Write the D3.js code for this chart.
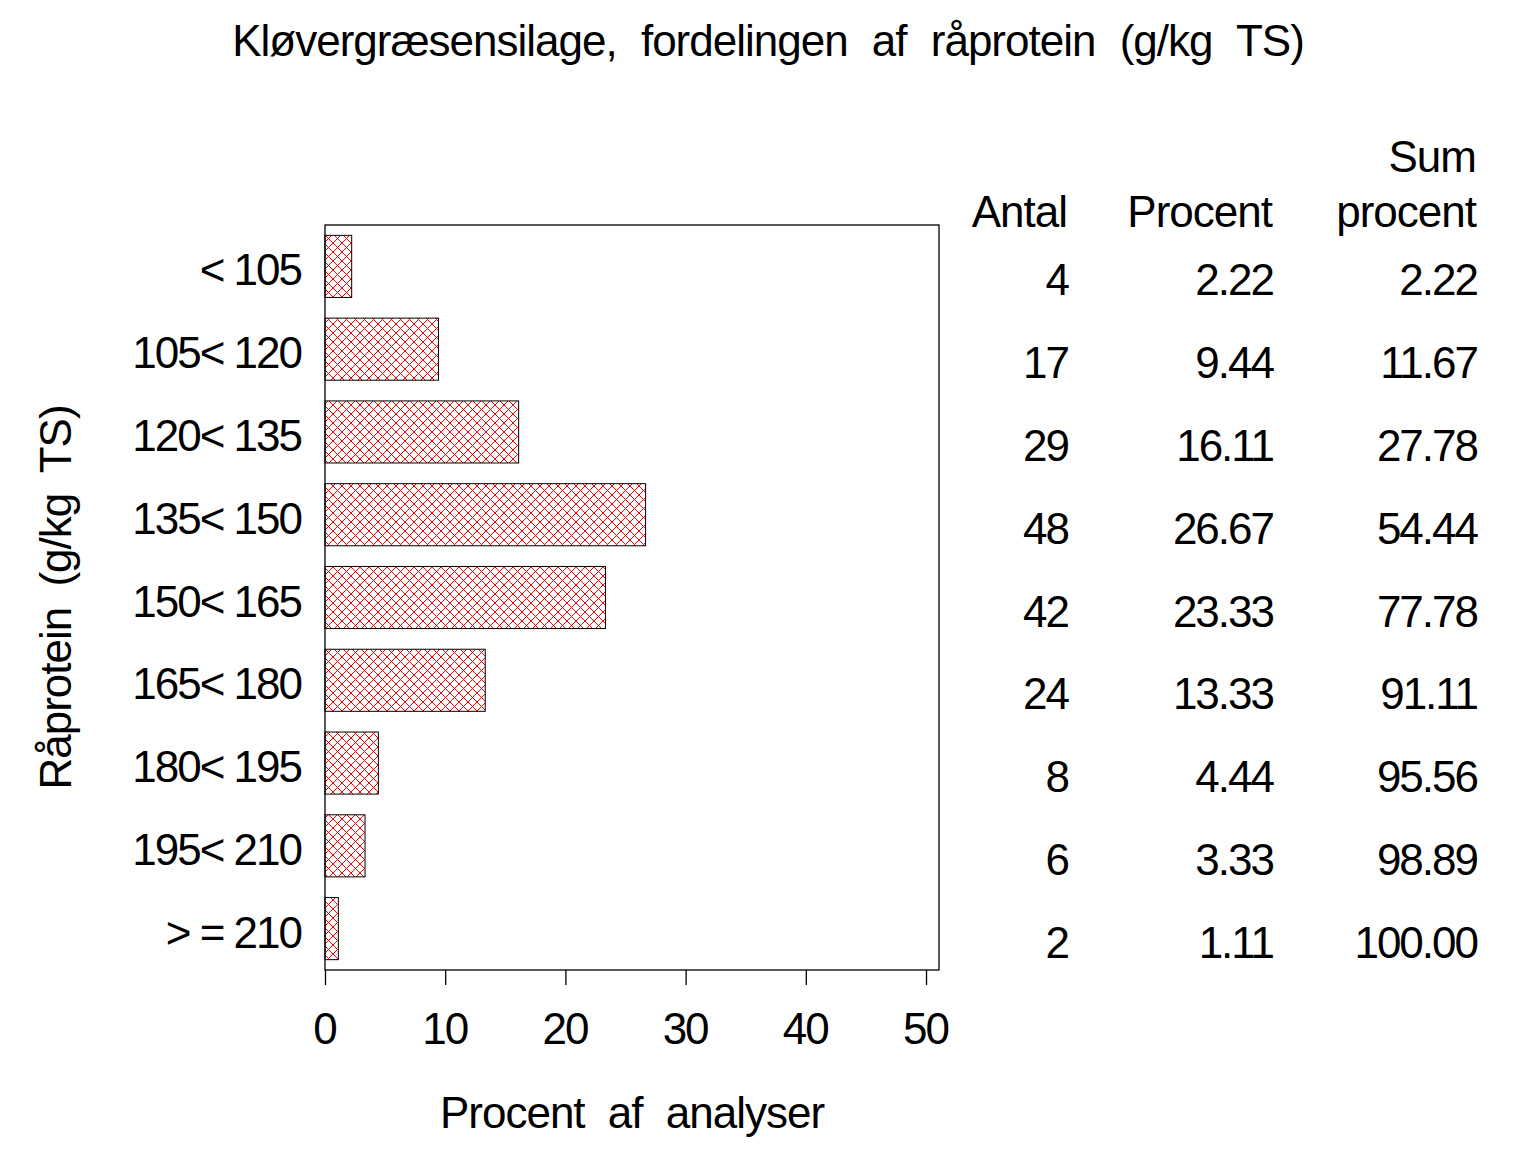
<!DOCTYPE html>
<html>
<head>
<meta charset="utf-8">
<script src="https://cdn.jsdelivr.net/npm/d3@7"></script>
<style>
  html, body { margin: 0; padding: 0; background: #fff; }
  svg text { font-family: "Liberation Sans", Arial, sans-serif; fill: #000; letter-spacing: -2px; }
  svg text.word { letter-spacing: -1px; }
</style>
</head>
<body>
<script>
const categories = ["< 105", "105< 120", "120< 135", "135< 150", "150< 165", "165< 180", "180< 195", "195< 210", "> = 210"];
const antal = [4, 17, 29, 48, 42, 24, 8, 6, 2];
const procent = [2.22, 9.44, 16.11, 26.67, 23.33, 13.33, 4.44, 3.33, 1.11];
const sumProcent = [2.22, 11.67, 27.78, 54.44, 77.78, 91.11, 95.56, 98.89, 100.00];
const xTicks = [0, 10, 20, 30, 40, 50];
const title = "Kløvergræsensilage, fordelingen af råprotein (g/kg TS)";
const xLabel = "Procent af analyser";
const yLabel = "Råprotein (g/kg TS)";
const tableHeaders = [["", "Antal"], ["", "Procent"], ["Sum", "procent"]];

const W = 1536, H = 1152;
const FS = 44;
const svg = d3.select("body").append("svg").attr("width", W).attr("height", H);

// hatch pattern
const defs = svg.append("defs");
const pat = defs.append("pattern").attr("id", "hatch").attr("patternUnits", "userSpaceOnUse")
  .attr("width", 9).attr("height", 9);
pat.append("path").attr("d", "M0,0 L9,9 M9,0 L0,9 M-1,8 L1,10 M8,-1 L10,1 M-1,1 L1,-1 M8,10 L10,8")
  .attr("stroke", "#ff0000").attr("stroke-width", 1).attr("fill", "none");

const pLeft = 325, pRight = 939, pTop = 225, pBottom = 970;
const x = d3.scaleLinear().domain([0, 51.08]).range([pLeft, pRight]);
const y = d3.scaleBand().domain(categories).range([pTop, pBottom]).paddingInner(0.25).paddingOuter(0.125);

// bars
svg.append("g").selectAll("rect").data(categories).join("rect")
  .attr("x", x(0)).attr("y", d => y(d))
  .attr("width", (d, i) => x(procent[i]) - x(0))
  .attr("height", y.bandwidth())
  .attr("fill", "url(#hatch)").attr("stroke", "#000").attr("stroke-width", 1);

// frame
svg.append("rect").attr("x", pLeft).attr("y", pTop).attr("width", pRight - pLeft).attr("height", pBottom - pTop)
  .attr("fill", "none").attr("stroke", "#000").attr("stroke-width", 1.3);

// x axis
const xAxis = svg.append("g").attr("transform", `translate(0,${pBottom})`)
  .call(d3.axisBottom(x).tickValues(xTicks).tickSize(15).tickSizeOuter(0).tickFormat(d3.format("d")));
xAxis.select(".domain").remove();
xAxis.selectAll(".tick line").attr("stroke", "#000").attr("stroke-width", 1.3);
xAxis.selectAll(".tick text").attr("y", 74).attr("dy", null).attr("dx", -1).style("font-size", FS + "px")
  .style("font-family", "Liberation Sans, Arial, sans-serif").attr("fill", "#000");

// y labels
svg.append("g").selectAll("text").data(categories).join("text")
  .attr("x", 301).attr("y", d => y(d) + y.bandwidth() / 2 + 19)
  .attr("text-anchor", "end").style("font-size", FS + "px")
  .text(d => d);

// table
const colX = [1068, 1273, 1477];
const cols = [antal, procent.map(v => v.toFixed(2)), sumProcent.map(v => v.toFixed(2))];
cols.forEach((vals, c) => {
  svg.append("g").selectAll("text").data(vals).join("text")
    .attr("x", colX[c]).attr("y", (d, i) => y(categories[i]) + y.bandwidth() / 2 + 29)
    .attr("text-anchor", "end").style("font-size", FS + "px").text(d => d);
  svg.append("text").attr("class", "word").attr("x", colX[c] - 1).attr("y", 172).attr("text-anchor", "end")
    .style("font-size", FS + "px").text(tableHeaders[c][0]);
  svg.append("text").attr("class", "word").attr("x", colX[c] - 1).attr("y", 227).attr("text-anchor", "end")
    .style("font-size", FS + "px").text(tableHeaders[c][1]);
});

// title
svg.append("text").attr("class", "word").attr("x", 768).attr("y", 56).attr("text-anchor", "middle")
  .style("font-size", FS + "px").style("word-spacing", "13px").text(title);

// x label
svg.append("text").attr("class", "word").attr("x", (pLeft + pRight) / 2).attr("y", 1128).attr("text-anchor", "middle")
  .style("font-size", FS + "px").style("word-spacing", "12px").text(xLabel);

// y label
svg.append("text").attr("class", "word").attr("transform", `translate(71,${(pTop + pBottom) / 2}) rotate(-90)`)
  .attr("text-anchor", "middle").style("font-size", FS + "px").style("word-spacing", "10px").text(yLabel);
</script>
</body>
</html>
